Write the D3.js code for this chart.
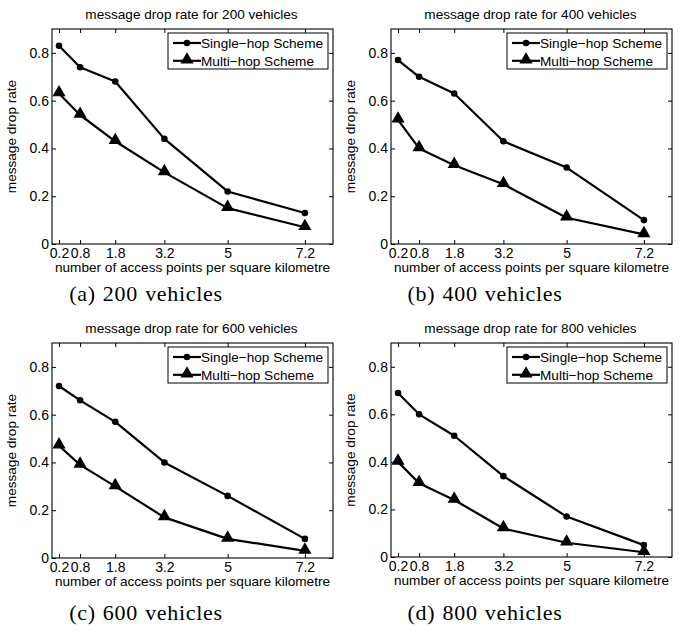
<!DOCTYPE html>
<html><head><meta charset="utf-8">
<script src="https://cdn.jsdelivr.net/npm/d3@7"></script>
<style>
body{margin:0;background:#fff;}
svg{display:block;}
text{fill:#000;}
</style></head>
<body>
<script>
const xValues = [0.2, 0.8, 1.8, 3.2, 5, 7.2];
const xTickLabels = ["0.2", "0.8", "1.8", "3.2", "5", "7.2"];
const yTicks = [0, 0.2, 0.4, 0.6, 0.8];
const vehicleCounts = [200, 400, 600, 800];
const captionLetters = ["a", "b", "c", "d"];
const seriesNames = ["Single\u2212hop Scheme", "Multi\u2212hop Scheme"];
const single200 = [0.83, 0.74, 0.68, 0.44, 0.22, 0.13];
const multi200  = [0.63, 0.54, 0.43, 0.30, 0.15, 0.07];
const single400 = [0.77, 0.70, 0.63, 0.43, 0.32, 0.10];
const multi400  = [0.52, 0.40, 0.33, 0.25, 0.11, 0.04];
const single600 = [0.72, 0.66, 0.57, 0.40, 0.26, 0.08];
const multi600  = [0.47, 0.39, 0.30, 0.17, 0.08, 0.03];
const single800 = [0.69, 0.60, 0.51, 0.34, 0.17, 0.05];
const multi800  = [0.40, 0.31, 0.24, 0.12, 0.06, 0.02];

const panelsData = [
  [single200, multi200], [single400, multi400],
  [single600, multi600], [single800, multi800]
];
const layout = [
  {l:52, r:333, t:29, b:244, cap:57},
  {l:391, r:672, t:29, b:244, cap:57},
  {l:52, r:333, t:343, b:558, cap:62},
  {l:391, r:672, t:343, b:557, cap:63}
];
const SANS = "Liberation Sans, Arial, Helvetica, sans-serif";
const FS = 13.6;
const TFS = 14;

const svg = d3.select("body").append("svg").attr("width",684).attr("height",633);

panelsData.forEach((series, i) => {
  const L = layout[i];
  const x = d3.scaleLinear().domain([0, 8]).range([L.l, L.r]);
  const y = d3.scaleLinear().domain([0, 0.9]).range([L.b, L.t]);
  const g = svg.append("g");

  const tk = 4;
  g.append("g").attr("transform",`translate(0,${L.b})`)
    .call(d3.axisBottom(x).tickValues(xValues).tickFormat((d,j)=>xTickLabels[j]).tickSizeInner(-tk).tickSizeOuter(0).tickPadding(3))
    .call(a=>{a.select(".domain").remove(); a.attr("font-size",TFS).attr("font-family",SANS); a.selectAll("text").attr("dy","0.78em");});
  g.append("g").attr("transform",`translate(0,${L.t})`)
    .call(d3.axisTop(x).tickValues(xValues).tickFormat("").tickSizeInner(-tk).tickSizeOuter(0))
    .call(a=>a.select(".domain").remove());
  g.append("g").attr("transform",`translate(${L.l},0)`)
    .call(d3.axisLeft(y).tickValues(yTicks).tickFormat(d=>d===0?"0":d3.format(".1f")(d)).tickSizeInner(-tk).tickSizeOuter(0).tickPadding(3))
    .call(a=>{a.select(".domain").remove(); a.attr("font-size",TFS).attr("font-family",SANS);});
  g.append("g").attr("transform",`translate(${L.r},0)`)
    .call(d3.axisRight(y).tickValues(yTicks).tickFormat("").tickSizeInner(-tk).tickSizeOuter(0))
    .call(a=>a.select(".domain").remove());
  g.selectAll(".tick line").attr("stroke","#000").attr("stroke-width",1);

  g.append("rect").attr("x",L.l).attr("y",L.t).attr("width",L.r-L.l).attr("height",L.b-L.t)
    .attr("fill","none").attr("stroke","#000").attr("stroke-width",1.1);

  const line = d3.line().x((d,j)=>x(xValues[j])).y(d=>y(d));
  const circ = d3.symbol().type(d3.symbolCircle).size(34);
  const tri = d3.symbol().type(d3.symbolTriangle).size(75);
  series.forEach((vals, s) => {
    g.append("path").datum(vals).attr("d",line).attr("fill","none").attr("stroke","#000").attr("stroke-width",2.2).attr("stroke-linejoin","round");
    g.selectAll(null).data(vals).enter().append("path")
      .attr("d",s===0?circ:tri).attr("transform",(d,j)=>`translate(${x(xValues[j])},${y(d)+(s===1?-1:0)})`).attr("fill","#000");
  });

  // legend
  const lw = 160, lh = 36;
  const lx = L.r - 5 - lw, ly = L.t + 4;
  const lg = g.append("g");
  lg.append("rect").attr("x",lx).attr("y",ly).attr("width",lw).attr("height",lh).attr("fill","#fff").attr("stroke","#000").attr("stroke-width",1);
  seriesNames.forEach((nm, s) => {
    const cy = ly + 10 + s*17.8;
    lg.append("line").attr("x1",lx+5).attr("x2",lx+33).attr("y1",cy).attr("y2",cy).attr("stroke","#000").attr("stroke-width",2.2);
    lg.append("path").attr("d",s===0?circ:tri).attr("transform",`translate(${lx+19},${cy+(s===1?-1:0)})`).attr("fill","#000");
    lg.append("text").attr("x",lx+33).attr("y",cy).attr("dy","0.36em").attr("font-size",FS).attr("font-family",SANS).text(nm);
  });

  const cx = (L.l+L.r)/2;
  g.append("text").attr("x",cx - 1).attr("y",L.t-10).attr("text-anchor","middle").attr("font-size",FS).attr("font-family",SANS)
    .text(`message drop rate for ${vehicleCounts[i]} vehicles`);
  g.append("text").attr("x",cx).attr("y",L.b+28).attr("text-anchor","middle").attr("font-size",FS).attr("font-family",SANS)
    .text("number of access points per square kilometre");
  g.append("text").attr("transform",`translate(${L.l-36},${(L.t+L.b)/2}) rotate(-90)`).attr("text-anchor","middle").attr("font-size",FS).attr("font-family",SANS)
    .text("message drop rate");
  g.append("text").attr("x",L.l + 94).attr("y",L.b+L.cap).attr("text-anchor","middle")
    .attr("font-size",22).attr("font-family","Liberation Serif, Times New Roman, serif")
    .attr("letter-spacing",0.7).attr("word-spacing",1)
    .text(`(${captionLetters[i]}) ${vehicleCounts[i]} vehicles`);
});
</script>
</body></html>
